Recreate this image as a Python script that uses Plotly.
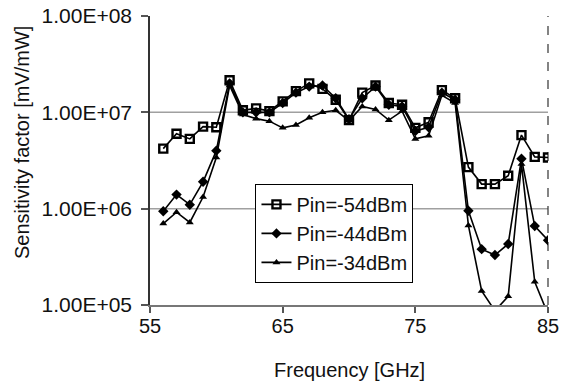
import plotly.graph_objects as go

freq = list(range(56, 86))

pin_m54 = [4.2e6, 6.0e6, 5.3e6, 7.1e6, 7.0e6, 2.15e7, 1.05e7, 1.1e7, 1.03e7, 1.3e7,
           1.66e7, 2.0e7, 1.75e7, 1.35e7, 8.3e6, 1.6e7, 1.9e7, 1.25e7, 1.2e7, 6.9e6,
           7.9e6, 1.7e7, 1.4e7, 2.7e6, 1.8e6, 1.8e6, 2.2e6, 5.8e6, 3.45e6, 3.4e6]

pin_m44 = [9.4e5, 1.4e6, 1.1e6, 1.9e6, 4.0e6, 2.0e7, 1.0e7, 1.0e7, 1.0e7, 1.25e7,
           1.6e7, 1.85e7, 1.9e7, 1.4e7, 8.5e6, 1.4e7, 1.85e7, 1.2e7, 1.15e7, 6.4e6,
           7.0e6, 1.6e7, 1.35e7, 9.5e5, 3.8e5, 3.3e5, 4.3e5, 3.3e6, 6.6e5, 4.7e5]

pin_m34 = [7.0e5, 9.2e5, 7.2e5, 1.32e6, 3.4e6, 1.9e7, 9.5e6, 8.6e6, 8.1e6, 6.9e6,
           7.4e6, 8.8e6, 1.0e7, 1.05e7, 8.2e6, 1.15e7, 1.07e7, 8.3e6, 1.03e7, 5.3e6,
           5.7e6, 1.5e7, 1.25e7, 6.7e5, 1.4e5, 8.7e4, 1.23e5, 2.9e6, 1.74e5, 8.0e4]

series_names = ["Pin=-54dBm", "Pin=-44dBm", "Pin=-34dBm"]

y_tickvals = [1e5, 1e6, 1e7, 1e8]
y_ticktext = ["1.00E+05", "1.00E+06", "1.00E+07", "1.00E+08"]
x_tickvals = [55, 65, 75, 85]

FONT = "Liberation Sans, Arial, sans-serif"

fig = go.Figure()
styles = [
    dict(symbol="square-open", size=8, line=dict(width=2.4, color="black"), color="black"),
    dict(symbol="diamond", size=8, color="black"),
    dict(symbol="triangle-up", size=7, color="black"),
]
for name, vals, mk in zip(series_names, [pin_m54, pin_m44, pin_m34], styles):
    fig.add_trace(go.Scatter(
        x=freq, y=vals, name=name, mode="lines+markers",
        line=dict(color="black", width=1.6),
        marker=mk, cliponaxis=True,
    ))

# gridlines at 1e6 and 1e7
for gv in y_tickvals[1:3]:
    fig.add_shape(type="line", xref="paper", x0=0, x1=1, yref="y", y0=gv, y1=gv,
                  line=dict(color="#a0a0a0", width=1.5), layer="below")
# dashed right border
fig.add_shape(type="line", xref="paper", x0=1, x1=1, yref="paper", y0=0, y1=1,
              line=dict(color="#333333", width=1.2, dash="dash"), layer="below")

fig.update_layout(
    width=571, height=381,
    margin=dict(l=150, r=23, t=16, b=76, autoexpand=False),
    paper_bgcolor="white", plot_bgcolor="white",
    font=dict(family=FONT, size=20, color="#111111"),
    showlegend=True,
    legend=dict(x=0.265, y=0.419, xanchor="left", yanchor="top",
                bgcolor="white", bordercolor="black", borderwidth=1,
                font=dict(size=20), tracegroupgap=0, itemwidth=30),
    xaxis=dict(range=[55, 85], tickvals=x_tickvals, showgrid=False, zeroline=False,
               automargin=False, ticklabeloverflow="allow",
               showline=True, linecolor="#777777", linewidth=1.5,
               ticks="outside", ticklen=6, tickcolor="#555555", tickwidth=1.5,
               ticklabelstandoff=-4, tickfont=dict(size=20)),
    yaxis=dict(type="log", range=[5, 8], tickvals=y_tickvals, ticktext=y_ticktext,
               showgrid=False, zeroline=False, automargin=False,
               ticklabeloverflow="allow",
               showline=True, linecolor="#333333", linewidth=1.5,
               ticks="outside", ticklen=7, tickcolor="#555555", tickwidth=1.5,
               ticklabelstandoff=5, tickfont=dict(size=21)),
    annotations=[
        dict(text="Frequency [GHz]", xref="paper", yref="paper", x=0.5, y=-0.225,
             xanchor="center", yanchor="middle", showarrow=False, font=dict(size=20)),
        dict(text="Sensitivity factor [mV/mW]", xref="paper", yref="paper",
             x=-0.3216, y=0.5606, xanchor="center", yanchor="middle",
             textangle=-90, showarrow=False, font=dict(size=20)),
    ],
)

fig.write_html("out.html",
               config={"displayModeBar": False},
               post_script="document.body.style.margin='0';document.body.style.overflow='hidden';")
